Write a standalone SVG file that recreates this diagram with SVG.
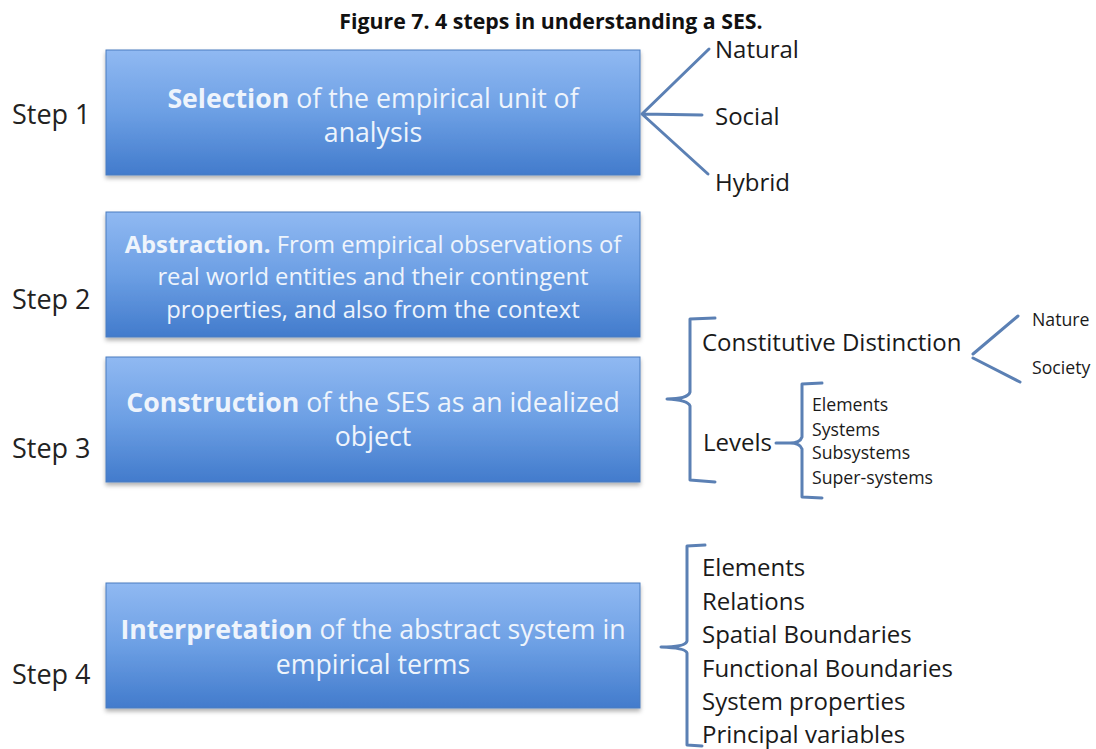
<svg xmlns="http://www.w3.org/2000/svg" width="1096" height="749" viewBox="0 0 1096 749">
  <style>
    .title { font-family: "Open Sans", "Liberation Sans", sans-serif; font-weight: bold; font-size: 21.3px; fill: #111; }
    .step { font-family: "Open Sans", "Liberation Sans", sans-serif; font-size: 27px; fill: #222; }
    .box { fill: url(#boxFill); stroke: #4a7cc0; stroke-width: 1; filter: url(#shadow); }
    .boxText { font-family: "Open Sans", "Liberation Sans", sans-serif; font-size: 26.7px; fill: #eef4fc; text-anchor: middle; }
    .boxText2 { font-family: "Open Sans", "Liberation Sans", sans-serif; font-size: 23.8px; fill: #eef4fc; text-anchor: middle; }
    .b { font-weight: bold; }
    .lbl { font-family: "Open Sans", "Liberation Sans", sans-serif; font-size: 24px; fill: #1a1a1a; }
    .small { font-family: "Open Sans", "Liberation Sans", sans-serif; font-size: 17.7px; fill: #1a1a1a; }
    .conn { fill: none; stroke: #5b80b4; stroke-width: 3; stroke-linecap: round; stroke-linejoin: round; }
  </style>
  <defs>
    <linearGradient id="boxFill" x1="0" y1="0" x2="0" y2="1">
      <stop offset="0" stop-color="#90b9f2"/>
      <stop offset="0.5" stop-color="#6c9fe4"/>
      <stop offset="1" stop-color="#427bcc"/>
    </linearGradient>
    <filter id="shadow" x="-5%" y="-10%" width="110%" height="130%">
      <feDropShadow dx="0" dy="3" stdDeviation="2" flood-color="#000" flood-opacity="0.3"/>
    </filter>
  </defs>

  <rect width="1096" height="749" fill="#ffffff"/>

  <text class="title" x="551" y="29" text-anchor="middle">Figure 7. 4 steps in understanding a SES.</text>

  <!-- step labels -->
  <g id="step-labels">
    <text class="step" x="12" y="124">Step 1</text>
    <text class="step" x="12" y="309">Step 2</text>
    <text class="step" x="12" y="458">Step 3</text>
    <text class="step" x="12" y="684">Step 4</text>
  </g>

  <!-- step boxes -->
  <g id="selection">
    <rect class="box" x="106" y="50" width="534" height="125"/>
    <text class="boxText" x="373" y="108"><tspan class="b">Selection</tspan> of the empirical unit of</text>
    <text class="boxText" x="373" y="142">analysis</text>
  </g>

  <g id="abstraction">
    <rect class="box" x="106" y="212" width="534" height="125"/>
    <text class="boxText2" x="373" y="253"><tspan class="b">Abstraction.</tspan> From empirical observations of</text>
    <text class="boxText2" x="373" y="285">real world entities and their contingent</text>
    <text class="boxText2" x="373" y="318">properties, and also from the context</text>
  </g>

  <g id="construction">
    <rect class="box" x="106" y="357" width="534" height="125"/>
    <text class="boxText" x="373" y="412"><tspan class="b">Construction</tspan> of the SES as an idealized</text>
    <text class="boxText" x="373" y="446">object</text>
  </g>

  <g id="interpretation">
    <rect class="box" x="106" y="583" width="534" height="125"/>
    <text class="boxText" x="373" y="639"><tspan class="b">Interpretation</tspan> of the abstract system in</text>
    <text class="boxText" x="373" y="674">empirical terms</text>
  </g>

  <!-- connectors: fan lines and braces -->
  <g id="connectors">
    <path class="conn" d="M642 114 L709 49 M642 114 L702 115 M642 114 L708 174"/>
    <path class="conn" d="M715 318 L690 319 L690 392 Q688 399 667 399 Q688 400 690 406 L690 480 L715 482"/>
    <path class="conn" d="M973 354 L1018 316 M973 358 L1020 382"/>
    <path class="conn" d="M776 443 L790 443 Q800 443 802 437 L802 384 L822 383 M790 443 Q800 443 802 449 L802 497 L822 498"/>
    <path class="conn" d="M705 545 L687 546 L687 641 Q686 647 661 647 Q686 648 687 653 L687 745 L702 746"/>
  </g>

  <g id="selection-types">
    <text class="lbl" x="715" y="58">Natural</text>
    <text class="lbl" x="715" y="125">Social</text>
    <text class="lbl" x="715" y="191">Hybrid</text>
  </g>

  <g id="constitutive-distinction">
    <text class="lbl" x="702" y="351">Constitutive Distinction</text>
    <text class="small" x="1032" y="326">Nature</text>
    <text class="small" x="1032" y="374">Society</text>
  </g>

  <g id="levels">
    <text class="lbl" x="703" y="451">Levels</text>
    <text class="small" x="812" y="411">Elements</text>
    <text class="small" x="812" y="436">Systems</text>
    <text class="small" x="812" y="459">Subsystems</text>
    <text class="small" x="812" y="484">Super-systems</text>
  </g>

  <g id="interpretation-terms">
    <text class="lbl" x="702" y="576">Elements</text>
    <text class="lbl" x="702" y="609.5">Relations</text>
    <text class="lbl" x="702" y="643">Spatial Boundaries</text>
    <text class="lbl" x="702" y="676.5">Functional Boundaries</text>
    <text class="lbl" x="702" y="710">System properties</text>
    <text class="lbl" x="702" y="743">Principal variables</text>
  </g>
</svg>
